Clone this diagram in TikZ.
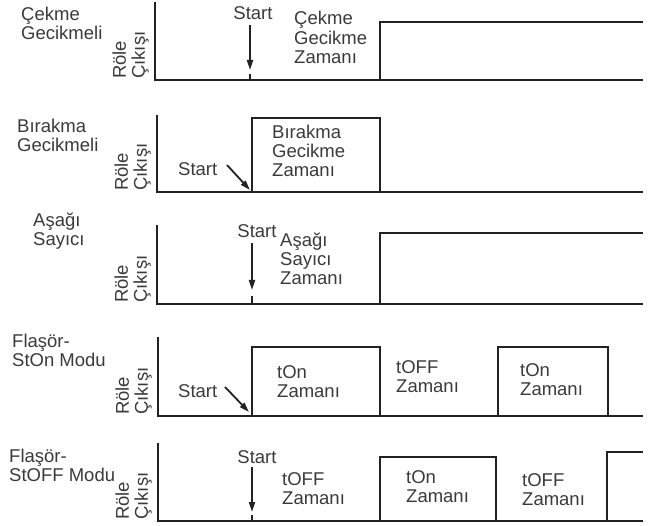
\documentclass[tikz,border=0pt]{standalone}
\usepackage{fontspec}
\setmainfont{Liberation Sans}
\usetikzlibrary{arrows.meta}
\definecolor{lncol}{HTML}{222222}
\definecolor{txcol}{HTML}{3A3A3A}
\tikzset{
  sig/.style={draw=lncol, line width=2.4pt, line join=miter},
  startarr/.style={draw=lncol, line width=1.8pt, -{Triangle[width=6pt,length=10pt]}},
  stub/.style={draw=lncol, line width=1.8pt},
  lbl/.style={text=txcol, inner sep=0pt, align=left, font={\fontsize{18.5}{19}\selectfont}},
  ylbl/.style={lbl, rotate=90, anchor=south west},
}
\begin{document}
\begin{tikzpicture}[x=1pt,y=-1pt]
\useasboundingbox (0,0) rectangle (648,526);
% ---------- Panel 1: Cekme Gecikmeli
\draw[sig] (155,2) -- (155,80) -- (643,80);
\draw[sig] (380,80) -- (380,22) -- (643,22);
\coordinate (s1a) at (250,25); \coordinate (s1b) at (250,70);
\draw[startarr] (s1a) -- (s1b);
\draw[stub] (250,74) -- (250,80);
\node[lbl, anchor=base] (st1) at (253,20) {Start};
\node[lbl, anchor=base west] (t1) at (294,64) {Çekme\\[0.5pt]Gecikme\\[0.5pt]Zamanı};
\node[lbl, anchor=base west] (m1) at (21,40) {Çekme\\Gecikmeli};
\node[ylbl] (y1) at (149,79) {Röle\\Çıkışı};
% ---------- Panel 2: Birakma Gecikmeli
\draw[sig] (157,115) -- (157,192) -- (643,192);
\draw[sig] (252,192) -- (252,118) -- (380,118) -- (380,192);
\node[lbl, anchor=base west] (st2) at (178,176) {Start};
\coordinate (s2a) at (227,165); \coordinate (s2b) at (250,190);
\draw[startarr] (s2a) -- (s2b);
\node[lbl, anchor=base west] (t2) at (272,177) {Bırakma\\Gecikme\\Zamanı};
\node[lbl, anchor=base west] (m2) at (17,152) {Bırakma\\Gecikmeli};
\node[ylbl] (y2) at (151,191) {Röle\\Çıkışı};
% ---------- Panel 3: Asagi Sayici
\draw[sig] (157,225) -- (157,304) -- (643,304);
\draw[sig] (380,304) -- (380,233) -- (643,233);
\coordinate (s3a) at (252,243); \coordinate (s3b) at (252,290);
\draw[startarr] (s3a) -- (s3b);
\draw[stub] (252,296) -- (252,304);
\node[lbl, anchor=base] (st3) at (257,238) {Start};
\node[lbl, anchor=base west] (t3) at (280,285) {Aşağı\\Sayıcı\\Zamanı};
\node[lbl, anchor=base west] (m3) at (33,246) {Aşağı\\Sayıcı};
\node[ylbl] (y3) at (151,303) {Röle\\Çıkışı};
% ---------- Panel 4: Flasor StOn
\draw[sig] (158,337) -- (158,416) -- (643,416);
\draw[sig] (252,416) -- (252,347) -- (380,347) -- (380,416);
\draw[sig] (498,416) -- (498,347) -- (608,347) -- (608,416);
\node[lbl, anchor=base west] (st4) at (178,398) {Start};
\coordinate (s4a) at (225,387); \coordinate (s4b) at (249,412);
\draw[startarr] (s4a) -- (s4b);
\node[lbl, anchor=base west] (t4a) at (277,398) {tOn\\Zamanı};
\node[lbl, anchor=base west] (t4b) at (396,393) {tOFF\\Zamanı};
\node[lbl, anchor=base west] (t4c) at (520,396) {tOn\\Zamanı};
\node[lbl, anchor=base west] (m4) at (12,367) {Flaşör-\\StOn Modu};
\node[ylbl] (y4) at (152,415) {Röle\\Çıkışı};
% ---------- Panel 5: Flasor StOFF
\draw[sig] (158,443) -- (158,521) -- (643,521);
\draw[sig] (380,521) -- (380,457) -- (496,457) -- (496,521);
\draw[sig] (607,521) -- (607,452) -- (643,452);
\coordinate (s5a) at (252,467); \coordinate (s5b) at (252,512);
\draw[startarr] (s5a) -- (s5b);
\draw[stub] (252,515) -- (252,521);
\node[lbl, anchor=base] (st5) at (257,463) {Start};
\node[lbl, anchor=base west] (t5a) at (282,504) {tOFF\\Zamanı};
\node[lbl, anchor=base west] (t5b) at (406,502) {tOn\\Zamanı};
\node[lbl, anchor=base west] (t5c) at (522,505) {tOFF\\Zamanı};
\node[lbl, anchor=base west] (m5) at (9,481) {Flaşör-\\StOFF Modu};
\node[ylbl] (y5) at (152,520) {Röle\\Çıkışı};
\end{tikzpicture}
\end{document}
